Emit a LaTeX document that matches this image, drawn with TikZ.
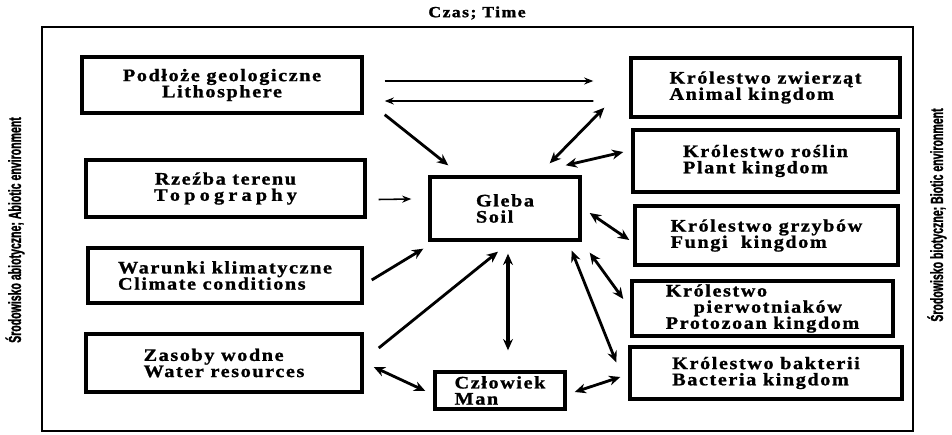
\documentclass[tikz,border=0pt]{standalone}
\usepackage{fontspec}
\setmainfont{Liberation Serif}
\newfontfamily\boxfont{Liberation Serif Bold}[FakeStretch=1.15,LetterSpace=9,FakeBold=1.2]
\newfontfamily\sidefont{Liberation Sans Bold}[FakeStretch=0.6,FakeBold=1.2]
\usetikzlibrary{arrows.meta,calc}

\tikzset{
  factor/.style={draw, line width=2.4pt, inner sep=0pt, align=left,
    font=\boxfont\fontsize{12.5}{11.5}\selectfont},
  side/.style={rotate=90, font=\sidefont\fontsize{12.5}{13}\selectfont},
  link/.style={line width=2pt, -{Stealth[length=8pt,width=7pt]}},
  both/.style={line width=2pt, {Stealth[length=8pt,width=7pt]}-{Stealth[length=8pt,width=7pt]}},
  thinlink/.style={line width=1.1pt, -{Stealth[length=6.5pt,width=5pt]}}
}

\begin{document}
\begin{tikzpicture}[x=0.025cm, y=-0.025cm]
    \useasboundingbox (0,0) rectangle (952,434);

    % Frame, time and the two environments
    \draw[line width=1.6pt] (42,27) rectangle (913,431);
    \node[font=\boxfont\fontsize{11}{12}\selectfont] (time) at (477,13) {Czas; Time};
    \node[side] (abiotic) at (15,230) {Środowisko abiotyczne; Abiotic environment};
    \node[side] (biotic) at (937,215) {Środowisko biotyczne; Biotic environment};

    % Abiotic factors
    \node[factor, align=center, minimum width=7cm, minimum height=1.4cm] (litho) at (222,85) {Podłoże geologiczne\\Lithosphere};
    \node[factor, align=center, minimum width=6.975cm, minimum height=1.425cm] (relief) at (225.5,188.5) {Rzeźba terenu\\{\addfontfeature{LetterSpace=24}Topography}};
    \node[factor, minimum width=6.85cm, minimum height=1.375cm] (climate) at (225,275.5) {Warunki klimatyczne\\Climate conditions};
    \node[factor, minimum width=6.9cm, minimum height=1.45cm] (water) at (224,363) {Zasoby wodne\\Water resources};

    % Soil and man
    \node[factor, minimum width=3.75cm, minimum height=1.575cm] (soil) at (505,208.5) {Gleba\\Soil};
    \node[factor, minimum width=3.25cm, minimum height=0.925cm] (man) at (500,390.5) {Człowiek\\Man};

    % Kingdoms
    \node[factor, minimum width=6.725cm, minimum height=1.475cm] (animal) at (765.5,87.5) {Królestwo zwierząt\\Animal kingdom};
    \node[factor, minimum width=6.625cm, minimum height=1.55cm] (plant) at (765.5,161) {Królestwo roślin\\Plant kingdom};
    \node[factor, minimum width=6.575cm, minimum height=1.475cm] (fungi) at (766.5,235.5) {Królestwo grzybów\\Fungi~ kingdom};
    \node[factor, minimum width=6.525cm, minimum height=1.375cm] (protozoa) at (762.5,308.5) {Królestwo\\\hspace*{0.7cm}pierwotniaków\\Protozoan kingdom};
    \node[factor, minimum width=6.8cm, minimum height=1.3cm] (bacteria) at (766,373) {Królestwo bakterii\\Bacteria kingdom};

    % Links
    \draw[thinlink] ($(litho.east)+(21,-4)$) -- ($(animal.west)+(-36,-6.5)$);
    \draw[thinlink] ($(animal.west)+(-36,13.5)$) -- ($(litho.east)+(21,16)$);
    \draw[link] ($(litho.south east)+(21,0)$) -- ($(soil.north west)+(20,-10)$);
    \draw[both] ($(animal.south west)+(-25,-11)$) -- ($(soil.north east)+(-32,-12)$);
    \draw[both] ($(soil.north east)+(-16,-10)$) -- ($(plant.west)+(-8,-9)$);
    \draw[thinlink] ($(relief.east)+(12,11)$) -- ($(soil.west)+(-17,-9.5)$);
    \draw[link] ($(climate.east)+(8,4.5)$) -- ($(soil.south west)+(-5,7)$);
    \draw[link] ($(water.east)+(15,-15)$) -- ($(soil.south)+(-7,10)$);
    \draw[both, line width=2.6pt] ($(man.north)+(8,-20)$) -- ($(soil.south)+(3,12)$);
    \draw[both] ($(water.east)+(10,4)$) -- ($(man.west)+(-8,0.5)$);
    \draw[both] ($(man.east)+(8,1.5)$) -- ($(bacteria.west)+(-8,4)$);
    \draw[both] ($(soil.south east)+(8,11)$) -- ($(protozoa.west)+(-7,-9.5)$);
    \draw[both] ($(soil.south east)+(-10,9)$) -- ($(bacteria.north west)+(-12,17)$);
    \draw[both] ($(soil.east)+(8,4.5)$) -- ($(fungi.west)+(-4,4.5)$);
\end{tikzpicture}
\end{document}
